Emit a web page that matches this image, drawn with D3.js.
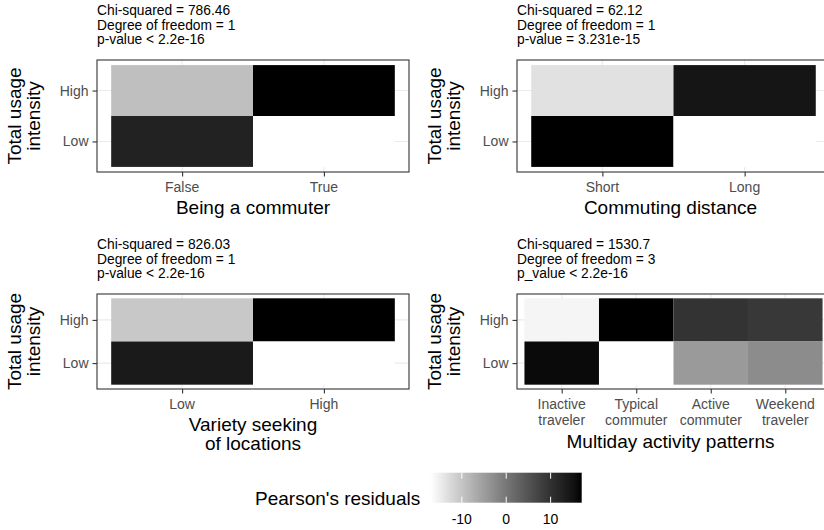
<!DOCTYPE html>
<html><head><meta charset="utf-8">
<script src="https://cdn.jsdelivr.net/npm/d3@7"></script>
<style>
body{margin:0;background:#fff}
text{font-family:"Liberation Sans",Arial,Helvetica,sans-serif}
</style>
</head><body>
<svg id="chart" width="824" height="530"></svg>
<script>
// ---------------- data ----------------
const rowCats = ["Low", "High"]; // bottom -> top
const yTitle = ["Total usage", "intensity"];

const commuterCats = [["False"], ["True"]];
const commuterHigh = [-10.1, 15.7];
const commuterLow  = [11.3, -17.6];
const commuterStats = ["Chi-squared = 786.46", "Degree of freedom = 1", "p-value < 2.2e-16"];
const commuterTitle = ["Being a commuter"];

const distanceCats = [["Short"], ["Long"]];
const distanceHigh = [-3.5, 3.6];
const distanceLow  = [4.2, -4.4];
const distanceStats = ["Chi-squared = 62.12", "Degree of freedom = 1", "p-value = 3.231e-15"];
const distanceTitle = ["Commuting distance"];

const varietyCats = [["Low"], ["High"]];
const varietyHigh = [-11.1, 15.5];
const varietyLow  = [12.5, -17.5];
const varietyStats = ["Chi-squared = 826.03", "Degree of freedom = 1", "p-value < 2.2e-16"];
const varietyTitle = ["Variety seeking", "of locations"];

const patternCats = [["Inactive", "traveler"], ["Typical", "commuter"], ["Active", "commuter"], ["Weekend", "traveler"]];
const patternHigh = [-15.8, 17.0, 9.8, 9.0];
const patternLow  = [16.1, -17.0, -4.6, -2.8];
const patternStats = ["Chi-squared = 1530.7", "Degree of freedom = 3", "p_value < 2.2e-16"];
const patternTitle = ["Multiday activity patterns"];

const legendTitle = "Pearson's residuals";
const legendTicks = [-10, 0, 10];

// ---------------- drawing ----------------
const svg = d3.select("#chart");
svg.append("rect").attr("width", 824).attr("height", 530).attr("fill", "#fff");
const interp = d3.interpolateLab("#ffffff", "#000000");

const panels = [
  {cats: commuterCats, high: commuterHigh, low: commuterLow, stats: commuterStats, title: commuterTitle, box: [97, 409, 60, 172]},
  {cats: distanceCats, high: distanceHigh, low: distanceLow, stats: distanceStats, title: distanceTitle, box: [517, 830, 60, 172]},
  {cats: varietyCats, high: varietyHigh, low: varietyLow, stats: varietyStats, title: varietyTitle, box: [97, 409, 294, 389]},
  {cats: patternCats, high: patternHigh, low: patternLow, stats: patternStats, title: patternTitle, box: [517, 830, 294, 389]}
];

const FS_TITLE = 19, FS_TICK = 14, FS_NOTE = 13.8;

panels.forEach(p => {
  const [L, R, T, B] = p.box;
  const n = p.cats.length;
  const x = d3.scaleLinear().domain([0.4, n + 0.6]).range([L, R]);
  const y = d3.scaleLinear().domain([0.4, rowCats.length + 0.6]).range([B, T]);
  const all = p.high.concat(p.low);
  const fillScale = d3.scaleLinear().domain(d3.extent(all)).range([0, 1]);
  const g = svg.append("g");

  const cid = "clip" + L + T;
  svg.append("clipPath").attr("id", cid).append("rect").attr("x", L).attr("y", T).attr("width", R - L).attr("height", B - T);
  const pg = g.append("g").attr("clip-path", `url(#${cid})`);

  // grid
  d3.range(1, n + 1).forEach(i => {
    pg.append("line").attr("x1", x(i)).attr("x2", x(i)).attr("y1", T).attr("y2", B)
      .attr("stroke", "#ebebeb").attr("stroke-width", 1.1);
  });
  rowCats.forEach((r, j) => {
    pg.append("line").attr("x1", L).attr("x2", R).attr("y1", y(j + 1)).attr("y2", y(j + 1))
      .attr("stroke", "#ebebeb").attr("stroke-width", 1.1);
  });

  // tiles
  const cells = [];
  p.high.forEach((v, i) => cells.push({i: i + 1, j: 2, v}));
  p.low.forEach((v, i) => cells.push({i: i + 1, j: 1, v}));
  pg.selectAll("rect.tile").data(cells).enter().append("rect")
    .attr("x", d => x(d.i - 0.5)).attr("width", d => x(d.i + 0.5) - x(d.i - 0.5))
    .attr("y", d => y(d.j + 0.5)).attr("height", d => y(d.j - 0.5) - y(d.j + 0.5))
    .attr("fill", d => interp(fillScale(d.v)));

  // border
  g.append("rect").attr("x", L).attr("y", T).attr("width", R - L).attr("height", B - T)
    .attr("fill", "none").attr("stroke", "#333").attr("stroke-width", 1.1);

  // x axis ticks
  const xa = g.append("g").attr("transform", `translate(0,${B})`)
    .call(d3.axisBottom(x).tickValues(d3.range(1, n + 1)).tickSize(4.5).tickSizeOuter(0).tickFormat(""));
  xa.select(".domain").remove();
  xa.selectAll("line").attr("stroke", "#333").attr("stroke-width", 1.1);
  let maxLines = 1;
  p.cats.forEach((lines, i) => {
    maxLines = Math.max(maxLines, lines.length);
    const t = g.append("text").attr("text-anchor", "middle").attr("font-size", FS_TICK).attr("fill", "#4d4d4d");
    lines.forEach((s, k) => t.append("tspan").attr("x", x(i + 1)).attr("y", B + 14.5 + k * 16.5 + 0.36 * FS_TICK).text(s));
  });
  const lastLabel = B + 14.5 + (maxLines - 1) * 16.5;
  const tt = g.append("text").attr("text-anchor", "middle").attr("font-size", FS_TITLE).attr("fill", "#000");
  p.title.forEach((s, k) => tt.append("tspan").attr("x", (L + R) / 2 - (R > 824 ? 3 : 0))
    .attr("y", lastLabel + 21 + k * 19 + 0.36 * FS_TITLE).text(s));

  // y axis
  const ya = g.append("g").attr("transform", `translate(${L},0)`)
    .call(d3.axisLeft(y).tickValues([1, 2]).tickSize(4.5).tickSizeOuter(0).tickFormat(""));
  ya.select(".domain").remove();
  ya.selectAll("line").attr("stroke", "#333").attr("stroke-width", 1.1);
  rowCats.forEach((r, j) => {
    g.append("text").attr("x", L - 8.5).attr("y", y(j + 1) + 0.36 * FS_TICK)
      .attr("text-anchor", "end").attr("font-size", FS_TICK).attr("fill", "#4d4d4d").text(r);
  });
  const cy = (T + B) / 2;
  yTitle.forEach((s, k) => {
    g.append("text").attr("transform", `translate(${L - 76 + k * 19},${cy}) rotate(-90)`)
      .attr("text-anchor", "middle").attr("font-size", FS_TITLE).attr("fill", "#000").text(s);
  });

  // stats annotation
  p.stats.forEach((s, k) => {
    g.append("text").attr("x", L).attr("y", T - 50 + k * 14.6 + 0.36 * FS_NOTE)
      .attr("font-size", FS_NOTE).attr("fill", "#000").text(s);
  });
});

// ---------------- legend ----------------
const legDomain = d3.extent(patternHigh.concat(patternLow));
const lx = d3.scaleLinear().domain(legDomain).range([430.7, 581.7]);
const barTop = 472.7, barH = 30;
const defs = svg.append("defs");
const grad = defs.append("linearGradient").attr("id", "lg").attr("x1", "0%").attr("x2", "100%");
d3.range(0, 1.0001, 0.05).forEach(t => grad.append("stop").attr("offset", (t * 100) + "%").attr("stop-color", interp(t)));
svg.append("rect").attr("x", lx.range()[0]).attr("y", barTop).attr("width", lx.range()[1] - lx.range()[0]).attr("height", barH)
  .attr("fill", "url(#lg)");
legendTicks.forEach(v => {
  svg.append("line").attr("x1", lx(v)).attr("x2", lx(v)).attr("y1", barTop).attr("y2", barTop + barH / 5).attr("stroke", "#fff").attr("stroke-width", 1);
  svg.append("line").attr("x1", lx(v)).attr("x2", lx(v)).attr("y1", barTop + barH - barH / 5).attr("y2", barTop + barH).attr("stroke", "#fff").attr("stroke-width", 1);
  svg.append("text").attr("x", lx(v)).attr("y", 519 + 0.36 * FS_TICK).attr("text-anchor", "middle")
    .attr("font-size", FS_TICK).attr("fill", "#000").text(v);
});
svg.append("text").attr("x", 255).attr("y", 498 + 0.36 * FS_TITLE).attr("font-size", FS_TITLE).attr("fill", "#000").text(legendTitle);
</script>
</body></html>
